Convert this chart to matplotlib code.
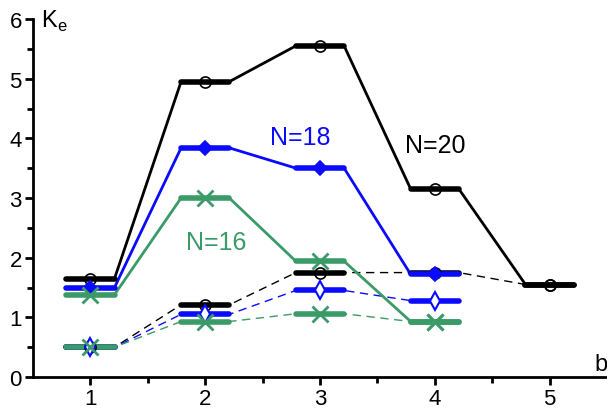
import matplotlib
matplotlib.use("Agg")
import matplotlib.pyplot as plt
import numpy as np

plt.rcParams['font.family'] = ['Liberation Sans', 'DejaVu Sans']

# data: K_e versus b, ground (solid) and excited (dashed) levels
b20 = [1, 2, 3, 4, 5]
k20 = [1.65, 4.95, 5.55, 3.15, 1.55]
k20x = [0.50, 1.21, 1.75, 1.75, 1.55]

b18 = [1, 2, 3, 4]
k18 = [1.50, 3.84, 3.50, 1.72]
k18x = [0.50, 1.05, 1.45, 1.28]

b16 = [1, 2, 3, 4]
k16 = [1.38, 3.00, 1.94, 0.93]
k16x = [0.50, 0.93, 1.06, 0.93]

labels = ['N=20', 'N=18', 'N=16']

c_black = 'black'
c_blue = '#0a0aff'
c_green = '#3a9a68'
w = 0.21


def steps(b, k):
    xs, ys = [], []
    for bi, ki in zip(b, k):
        xs += [bi - w, bi + w]
        ys += [ki, ki]
    return xs, ys


def level(ax, b, k, color, ls, lw, mk, mfc, ms, mew):
    xs, ys = steps(b, k)
    ax.plot(xs, ys, color=color, ls=ls, lw=lw, zorder=2)
    b = np.array(b)
    ax.hlines(k, b - w, b + w, color=color, lw=4, capstyle='round', zorder=3)
    ax.plot(b, k, ls='none', marker=mk, mfc=mfc, mec=color, ms=ms, mew=mew, zorder=5)


fig = plt.figure(figsize=(6.07, 4.10), dpi=100)
ax = fig.add_axes([33/607, 32/410, 574/607, 358/410])

level(ax, b20, k20x, c_black, (0, (6, 4)), 1.0, 'o', 'none', 8, 1.2)
level(ax, b18, k18x, c_blue, (0, (6, 4)), 1.0, 'd', 'white', 9, 1.5)
level(ax, b16, k16x, c_green, (0, (6, 4)), 1.0, 'x', 'none', 11, 2)
level(ax, b20, k20, c_black, '-', 2.0, 'o', 'none', 8, 1.2)
level(ax, b18, k18, c_blue, '-', 2.0, 'D', c_blue, 7, 1.2)
level(ax, b16, k16, c_green, '-', 2.0, 'x', 'none', 11, 2)

ax.text(4.0, 3.88, labels[0], color=c_black, fontsize=18, ha='center', va='center')
ax.text(2.83, 4.02, labels[1], color=c_blue, fontsize=18, ha='center', va='center')
ax.text(2.1, 2.26, labels[2], color=c_green, fontsize=18, ha='center', va='center')

ax.set_xlim(0.5, 5.5)
ax.set_ylim(0, 6)
ax.set_xticks([1, 2, 3, 4, 5])
ax.set_xticks([1.5, 2.5, 3.5, 4.5], minor=True)
ax.set_yticks([0, 1, 2, 3, 4, 5, 6])
ax.set_yticks([0.5, 1.5, 2.5, 3.5, 4.5, 5.5], minor=True)
ax.tick_params(which='major', length=6, width=2, labelsize=16, direction='out', pad=2)
ax.tick_params(which='minor', length=4, width=2, direction='out')
ax.spines['top'].set_visible(False)
ax.spines['right'].set_visible(False)
for s in ['left', 'bottom']:
    ax.spines[s].set_linewidth(2)

ax.text(0.57, 5.98, r'K$_\mathregular{e}$', fontsize=17, va='center', ha='left')
ax.text(5.45, 0.22, 'b', fontsize=17, va='center', ha='center')

fig.savefig('out.png', dpi=100)
